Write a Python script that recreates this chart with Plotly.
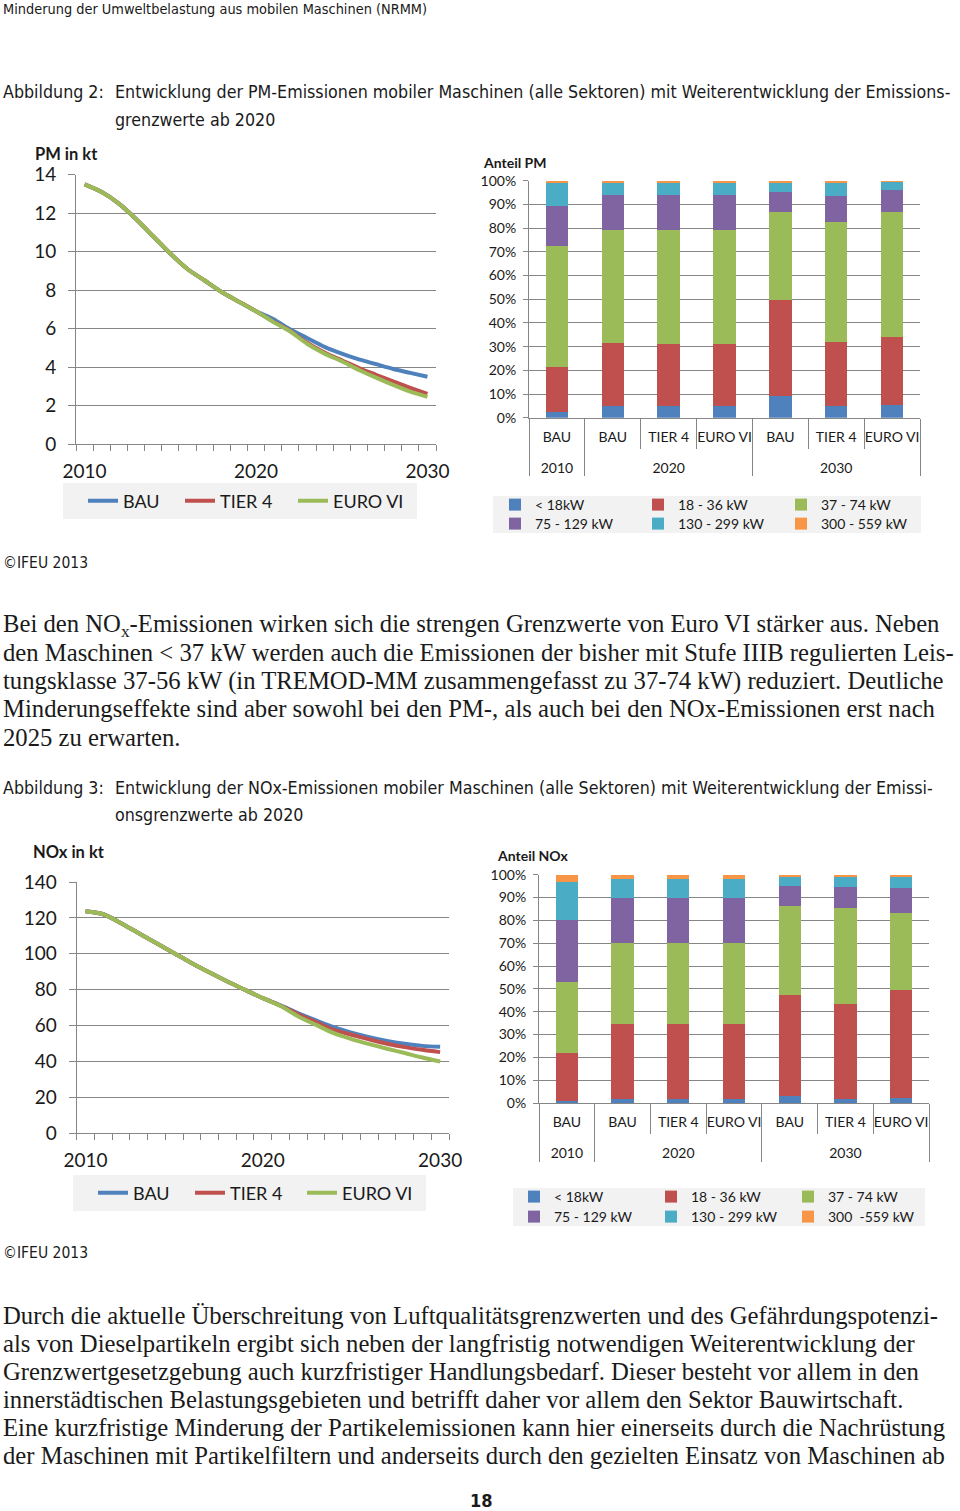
import plotly.graph_objects as go

W, H = 960, 1511

def X(px):
    return px / W

def Y(py):
    return 1 - py / H

# ---------------- data ----------------
years = list(range(2010, 2031))
scenarios = ["BAU", "TIER 4", "EURO VI"]
line_colors = ["#4F81BD", "#C0504D", "#9BBB59"]

pm_bau = [13.5, 13.1, 12.5, 11.7, 10.8, 9.9, 9.1, 8.5, 7.9, 7.4, 6.9, 6.5, 5.95, 5.5, 5.05, 4.7, 4.4, 4.15, 3.9, 3.7, 3.5]
pm_tier4 = [13.5, 13.1, 12.5, 11.7, 10.8, 9.9, 9.1, 8.5, 7.9, 7.4, 6.9, 6.37, 5.87, 5.25, 4.75, 4.35, 3.95, 3.6, 3.25, 2.92, 2.6]
pm_euro6 = [13.5, 13.1, 12.5, 11.7, 10.8, 9.9, 9.1, 8.5, 7.9, 7.4, 6.9, 6.35, 5.85, 5.2, 4.7, 4.3, 3.85, 3.45, 3.07, 2.72, 2.45]

nox_bau = [123.7, 122.0, 117.0, 111.4, 105.8, 100.3, 94.7, 89.5, 84.5, 79.8, 75.2, 71.2, 66.8, 62.8, 59.0, 56.0, 53.5, 51.4, 49.8, 48.6, 48.1]
nox_tier4 = [123.7, 122.0, 117.0, 111.4, 105.8, 100.3, 94.7, 89.5, 84.5, 79.8, 75.2, 71.0, 66.2, 61.8, 57.5, 54.8, 52.2, 49.8, 47.9, 46.4, 45.1]
nox_euro6 = [123.7, 122.0, 117.0, 111.4, 105.8, 100.3, 94.7, 89.5, 84.5, 79.8, 75.2, 70.8, 65.0, 60.3, 55.7, 52.4, 49.6, 47.0, 44.6, 42.1, 39.9]

bar_years = ["2010", "2020", "2020", "2020", "2030", "2030", "2030"]
bar_scen = ["BAU", "BAU", "TIER 4", "EURO VI", "BAU", "TIER 4", "EURO VI"]
classes = ["&lt; 18kW", "18 - 36 kW", "37 - 74 kW", "75 - 129 kW", "130 - 299 kW", "300 - 559 kW"]
classes_nox = ["&lt; 18kW", "18 - 36 kW", "37 - 74 kW", "75 - 129 kW", "130 - 299 kW", "300&nbsp; -559 kW"]
bar_colors = ["#4F81BD", "#C0504D", "#9BBB59", "#8064A2", "#4BACC6", "#F79646"]

# shares in % per power class (rows) for each bar (columns)
pm_share = [
    [2.5, 5.0, 5.0, 5.0, 9.3, 5.0, 5.2],
    [19.0, 26.5, 26.2, 26.2, 40.2, 27.0, 29.0],
    [51.0, 47.5, 47.8, 47.8, 37.5, 50.5, 52.8],
    [17.0, 15.0, 15.0, 15.0, 8.3, 11.0, 9.0],
    [9.5, 5.3, 5.3, 5.3, 4.2, 5.7, 3.6],
    [1.0, 0.7, 0.7, 0.7, 0.5, 0.8, 0.4],
]
nox_share = [
    [1.0, 1.8, 1.8, 1.8, 3.0, 1.8, 2.2],
    [21.0, 32.7, 32.7, 32.7, 44.5, 41.7, 47.3],
    [31.0, 35.5, 35.5, 35.5, 39.0, 42.0, 33.7],
    [27.0, 20.0, 20.0, 20.0, 8.5, 9.0, 10.8],
    [17.0, 8.3, 8.3, 8.3, 4.3, 4.8, 5.3],
    [3.0, 1.7, 1.7, 1.7, 0.7, 0.7, 0.7],
]

# ---------------- styling ----------------
SANS = "Lato, 'Open Sans', sans-serif"
NARROW = "'DejaVu Sans Condensed', 'Liberation Sans Narrow', sans-serif"
SERIF = "'Liberation Serif', 'DejaVu Serif', serif"
GRID = "#868686"
TXT = "#1a1a1a"

# inner category labels get an empty second line so the year row sits lower
bar_x = [bar_years, [s + "<br>&nbsp;" for s in bar_scen]]

fig = go.Figure()

# line charts (each series in its own legend so the entries can be placed freely)
for k, (series, name, col) in enumerate(zip([pm_bau, pm_tier4, pm_euro6], scenarios, line_colors)):
    fig.add_trace(go.Scatter(x=years, y=series, name=name, mode="lines",
                             line=dict(color=col, width=4, shape="spline", smoothing=0.8),
                             xaxis="x", yaxis="y", legend="legend" if k == 0 else "legend%d" % (k + 1)))
for k, (series, name, col) in enumerate(zip([nox_bau, nox_tier4, nox_euro6], scenarios, line_colors)):
    fig.add_trace(go.Scatter(x=years, y=series, name=name, mode="lines",
                             line=dict(color=col, width=4, shape="spline", smoothing=0.8),
                             xaxis="x2", yaxis="y2", legend="legend%d" % (k + 4)))

# stacked bars
for i, (vals, name, col) in enumerate(zip(pm_share, classes, bar_colors)):
    fig.add_trace(go.Bar(x=bar_x, y=vals, name=name,
                         marker=dict(color=col, line=dict(width=0)),
                         xaxis="x3", yaxis="y3",
                         legend="legend7" if i < 3 else "legend8"))
for i, (vals, name, col) in enumerate(zip(nox_share, classes_nox, bar_colors)):
    fig.add_trace(go.Bar(x=bar_x, y=vals, name=name,
                         marker=dict(color=col, line=dict(width=0)),
                         xaxis="x4", yaxis="y4",
                         legend="legend9" if i < 3 else "legend10"))


def line_xaxis(l, r, anchor):
    return dict(domain=[X(l), X(r)], anchor=anchor, range=[2009.5, 2030.5],
                tickvals=[2010, 2020, 2030], ticks="", showgrid=False,
                showline=True, linecolor=GRID, linewidth=1, zeroline=False,
                tickfont=dict(family=SANS, size=19, color=TXT), ticklabelstandoff=10,
                minor=dict(ticks="outside", ticklen=6, tickcolor=GRID, tickwidth=1,
                           tick0=2009.5, dtick=1, showgrid=False),
                automargin=False, fixedrange=True)


def line_yaxis(top, bottom, anchor, rng, dt):
    return dict(domain=[Y(bottom), Y(top)], anchor=anchor, range=rng, dtick=dt,
                showgrid=True, gridcolor=GRID, gridwidth=1, zeroline=False,
                showline=True, linecolor=GRID, linewidth=1,
                ticks="outside", ticklen=7, tickcolor=GRID,
                tickfont=dict(family=SANS, size=19, color=TXT), ticklabelstandoff=8,
                automargin=False, fixedrange=True)


def bar_xaxis(l, r, anchor):
    return dict(domain=[X(l), X(r)], anchor=anchor, type="multicategory",
                showline=True, linecolor=GRID, linewidth=1, tickangle=0,
                ticks="outside", tickson="boundaries", ticklen=30, tickcolor=GRID,
                showdividers=True, dividercolor=GRID, dividerwidth=1,
                tickfont=dict(family=SANS, size=14, color=TXT), ticklabelstandoff=6,
                showgrid=False, automargin=False, fixedrange=True)


def bar_yaxis(top, bottom, anchor):
    return dict(domain=[Y(bottom), Y(top)], anchor=anchor, range=[0, 100], dtick=10,
                ticksuffix="%", showgrid=True, gridcolor=GRID, gridwidth=1,
                zeroline=False, showline=True, linecolor=GRID, linewidth=1,
                ticks="outside", ticklen=5, tickcolor=GRID,
                tickfont=dict(family=SANS, size=14, color=TXT), ticklabelstandoff=4,
                automargin=False, fixedrange=True)


def legend_at(x, y, size, entrywidth=None):
    d = dict(x=X(x), y=Y(y), xanchor="left", yanchor="middle", orientation="h",
             bgcolor="rgba(0,0,0,0)", borderwidth=0, traceorder="normal",
             font=dict(family=SANS, size=size, color=TXT), itemwidth=30)
    if entrywidth:
        d["entrywidth"] = entrywidth
        d["entrywidthmode"] = "pixels"
    return d


# backgrounds for legends
shapes = []
for (x0, y0, x1, y1) in [(63, 483, 417, 519), (73, 1175, 426, 1211),
                         (493, 496, 921, 533), (513, 1188, 925, 1226)]:
    shapes.append(dict(type="rect", xref="paper", yref="paper", x0=X(x0), x1=X(x1),
                       y0=Y(y1), y1=Y(y0), fillcolor="#F2F2F2", line=dict(width=0),
                       layer="below"))

annotations = []


def txt(x, y, s, size, family, color=TXT, anchor="left"):
    annotations.append(dict(x=X(x), y=Y(y), xref="paper", yref="paper", text=s,
                            showarrow=False, xanchor=anchor, yanchor="middle",
                            font=dict(family=family, size=size, color=color)))


HEAD = 17.7
txt(1, 9, "Minderung der Umweltbelastung aus mobilen Maschinen (NRMM)", 14.4, NARROW)
txt(1, 92, "Abbildung 2:", HEAD, NARROW)
txt(113, 92, "Entwicklung der PM-Emissionen mobiler Maschinen (alle Sektoren) mit Weiterentwicklung der Emissions-", HEAD, NARROW)
txt(113, 120, "grenzwerte ab 2020", HEAD, NARROW)

txt(33, 154, "<b>PM in kt</b>", 16.5, SANS)
txt(481, 162, "<b>Anteil PM</b>", 14, SANS)
txt(1, 563, "©IFEU 2013", 15.5, NARROW)

BODY = 24.7
para1 = [
    "Bei den NO<sub>x</sub>-Emissionen wirken sich die strengen Grenzwerte von Euro VI stärker aus. Neben",
    "den Maschinen &lt; 37 kW werden auch die Emissionen der bisher mit Stufe IIIB regulierten Leis-",
    "tungsklasse 37-56 kW (in TREMOD-MM zusammengefasst zu 37-74 kW) reduziert. Deutliche",
    "Minderungseffekte sind aber sowohl bei den PM-, als auch bei den NOx-Emissionen erst nach",
    "2025 zu erwarten.",
]
for k, line in enumerate(para1):
    txt(1, 625 + 28 * k, line, BODY, SERIF)

txt(1, 788, "Abbildung 3:", HEAD, NARROW)
txt(113, 788, "Entwicklung der NOx-Emissionen mobiler Maschinen (alle Sektoren) mit Weiterentwicklung der Emissi-", HEAD, NARROW)
txt(113, 815, "onsgrenzwerte ab 2020", HEAD, NARROW)

txt(31, 852, "<b>NOx in kt</b>", 16.5, SANS)
txt(495, 855, "<b>Anteil NOx</b>", 14, SANS)
txt(1, 1253, "©IFEU 2013", 15.5, NARROW)

para2 = [
    "Durch die aktuelle Überschreitung von Luftqualitätsgrenzwerten und des Gefährdungspotenzi-",
    "als von Dieselpartikeln ergibt sich neben der langfristig notwendigen Weiterentwicklung der",
    "Grenzwertgesetzgebung auch kurzfristiger Handlungsbedarf. Dieser besteht vor allem in den",
    "innerstädtischen Belastungsgebieten und betrifft daher vor allem den Sektor Bauwirtschaft.",
    "Eine kurzfristige Minderung der Partikelemissionen kann hier einerseits durch die Nachrüstung",
    "der Maschinen mit Partikelfiltern und anderseits durch den gezielten Einsatz von Maschinen ab",
]
for k, line in enumerate(para2):
    txt(1, 1315 + 28 * k, line, BODY, SERIF)

txt(481, 1500, "<b>18</b>", 18, NARROW, anchor="center")

fig.update_layout(
    width=W, height=H, margin=dict(l=0, r=0, t=0, b=0, autoexpand=False),
    paper_bgcolor="white", plot_bgcolor="white",
    barmode="stack", bargap=0.6,
    xaxis=line_xaxis(76, 436, "y"),
    yaxis=line_yaxis(174.7, 444, "x", [0, 14], 2),
    xaxis2=line_xaxis(76.7, 449, "y2"),
    yaxis2=line_yaxis(882, 1133, "x2", [0, 140], 20),
    xaxis3=bar_xaxis(529, 920, "y3"),
    yaxis3=bar_yaxis(180.7, 417.7, "x3"),
    xaxis4=bar_xaxis(539, 929, "y4"),
    yaxis4=bar_yaxis(874.7, 1103, "x4"),
    legend=legend_at(83, 501, 18),
    legend2=legend_at(180, 501, 18),
    legend3=legend_at(293, 501, 18),
    legend4=legend_at(93, 1193, 18),
    legend5=legend_at(190, 1193, 18),
    legend6=legend_at(302, 1193, 18),
    legend7=legend_at(495, 505, 14, 98),
    legend8=legend_at(495, 524, 14, 98),
    legend9=legend_at(514, 1197, 14, 92),
    legend10=legend_at(514, 1217, 14, 92),
    shapes=shapes, annotations=annotations,
    showlegend=True,
)

fig.write_html("out.html", config={"displayModeBar": False},
               post_script="document.body.style.margin='0px';")
